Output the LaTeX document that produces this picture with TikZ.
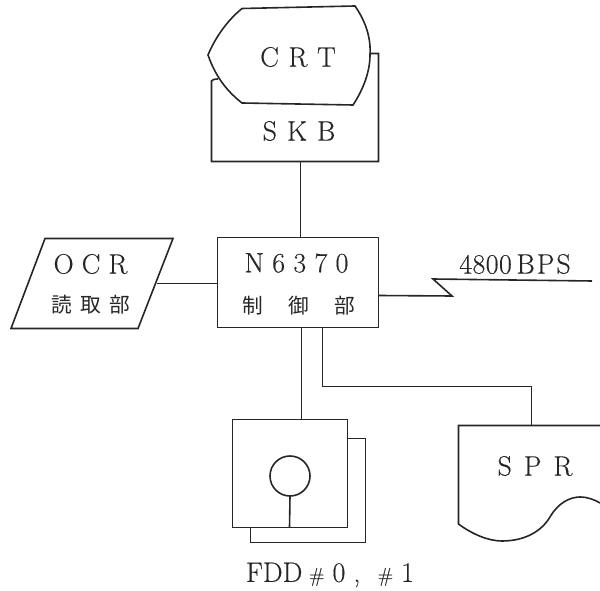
\documentclass[tikz,border=0pt]{standalone}
\usepackage{fontspec}
\setmainfont{Latin Modern Roman}[FakeBold=0.25]
\newfontfamily\cjk{Noto Sans CJK JP}
\usetikzlibrary{calc}
\definecolor{ink}{HTML}{262626}
\newcommand{\gp}[1]{\hspace{#1pt}}
\tikzset{
  wire/.style={draw=ink,line width=1.2pt,line join=miter},
  lbl/.style={inner sep=0pt,text=ink,font=\fontsize{21}{24}\selectfont},
  jlbl/.style={inner sep=0pt,text=ink,font=\fontsize{15.5}{18}\selectfont\cjk},
  boxnode/.style={draw=ink,line width=1.2pt,inner sep=0pt,outer sep=0pt}
}
\begin{document}
\begin{tikzpicture}[x=0.75pt,y=-0.75pt]
\useasboundingbox (0,0) rectangle (600,591);
% control box
\node[boxnode,minimum width=120.75pt,minimum height=67.5pt] (ctl) at (298,282.5) {};
\node[lbl] (ctlA) at (296.5,263) {N\gp{6.2}6\gp{6.2}3\gp{6.2}7\gp{6.2}0};
\node[jlbl] (ctlB) at (299,306) {制\gp{19}御\gp{19}部};
% CRT / SKB
\coordinate (skbL) at (218,79);
\coordinate (skbR) at (370,53.5);
\coordinate (skbS) at (300.5,161.5);
\path[wire] (skbL) .. controls (214,79) and (212,80) .. (211.5,81) -- (211.5,161.5) -- (378.5,161.5) -- (378.5,53.5) -- (skbR);
\path[wire] (242,8.5) -- (355,6) .. controls (366,22) and (371,38) .. (370,55)
  .. controls (370,72) and (363,90) .. (353,105) -- (242,103)
  .. controls (228,92) and (216,78) .. (208,55) .. controls (216,36) and (228,20) .. (242,8.5) -- cycle;
\node[lbl] (crt) at (298,57) {C\gp{7.2}R\gp{7.2}T};
\node[lbl] (skb) at (299,131) {S\gp{7.5}K\gp{7.5}B};
% OCR
\coordinate (ocrE) at (157,283.5);
\path[wire] (45,238.5) -- (173,238.5) -- (138,328.5) -- (11,328.5) -- cycle;
\node[lbl] (ocrA) at (90.5,264) {O\gp{6}C\gp{6}R};
\node[jlbl] (ocrB) at (91,305) {読\gp{6.5}取\gp{6.5}部};
% line
\coordinate (lineA) at (452,296);
\coordinate (lineB) at (433,279);
\coordinate (lineC) at (592,281);
\node[lbl] (bps) at (515,264) {4\gp{.3}8\gp{.3}0\gp{.3}0\gp{3.5}B\gp{1.5}P\gp{1.5}S};
% FDD
\node[boxnode,minimum width=86.25pt,minimum height=81pt] (fdd) at (290,473.5) {};
\node[boxnode,circle,minimum size=30pt] (disk) at (290,476) {};
\coordinate (fddT) at (301.5,419.5);
\coordinate (fddS) at (289.5,527.5);
\path[wire] (347.5,438.5) -- (365.5,438.5) -- (365.5,542.5) -- (250.5,542.5) -- (250.5,527.5);
\node[lbl] (fddL) at (330,575) {FDD\gp{5}{\fontsize{15}{18}\selectfont\#}\gp{6}0\gp{6},\gp{13}{\fontsize{15}{18}\selectfont\#}\gp{6}1};
% SPR
\coordinate (sprT) at (531.5,425.5);
\path[wire] (600,425.5) -- (458.5,425.5) -- (458.5,524)
  .. controls (472,534) and (488,541) .. (502,541)
  .. controls (524,541) and (541,532) .. (550,517)
  .. controls (558,503) and (570,497) .. (580,497)
  .. controls (588,497) and (595,500) .. (600,503);
\node[lbl] (spr) at (535,466) {S\gp{9}P\gp{9}R};
% connectors
\coordinate (ctlE) at (ctl.east |- 0,295.5);
\path[wire] (skbS) -- (skbS |- ctl.north);
\path[wire] (ocrE) -- (ocrE -| ctl.west);
\path[wire] (ctlE) -- (lineA) -- (lineB) -- (lineC);
\path[wire] (fddT |- ctl.south) -- (fddT);
\path[wire] (322.5,0 |- ctl.south) -- (322.5,386.5) -- (531.5,386.5) -- (sprT);
\path[wire] (disk.south) -- (fddS);
\end{tikzpicture}
\end{document}
